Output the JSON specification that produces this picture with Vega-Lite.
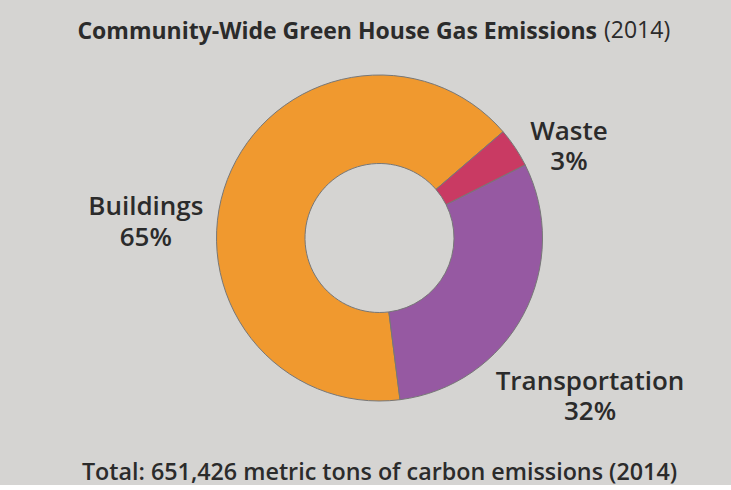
{
  "$schema": "https://vega.github.io/schema/vega-lite/v6.json",
  "background": "#d5d4d2",
  "padding": {"left": 41, "right": 13, "top": 20, "bottom": 0},
  "title": {"text": "Community-Wide Green House Gas Emissions", "font": "Open Sans", "fontSize": 23, "fontWeight": "bold", "color": "#2b2b2b", "anchor": "end", "frame": "group", "dx": -121, "offset": -24},
  "datasets": {
    "emissions": [
      {"category": "Buildings", "value": 65.7, "label": "Buildings\n65%"},
      {"category": "Transportation", "value": 30.4, "label": "Transportation\n32%"},
      {"category": "Waste", "value": 3.9, "label": "Waste\n3%"}
    ]
  },
  "vconcat": [
    {
      "title": {"text": "(2014)", "font": "Open Sans", "fontSize": 23, "fontWeight": "normal", "color": "#2b2b2b", "anchor": "start", "frame": "group", "dx": 563, "offset": 9},
      "vconcat": [
        {
          "width": 677,
          "height": 372,
          "title": {"text": "Total: 651,426 metric tons of carbon emissions (2014)", "orient": "bottom", "font": "Open Sans", "fontSize": 23.3, "fontWeight": 600, "color": "#2b2b2b", "anchor": "middle", "frame": "group", "offset": 37},
          "data": {"name": "emissions"},
          "encoding": {
            "theta": {"field": "value", "type": "quantitative", "stack": true, "scale": {"range": [0.8604, 7.1436]}},
            "order": {"field": "category", "sort": "descending"}
          },
          "layer": [
            {
              "mark": {"type": "arc", "outerRadius": 163, "innerRadius": 74.5, "stroke": "#777777", "strokeWidth": 1},
              "encoding": {
                "color": {"field": "category", "type": "nominal", "scale": {"domain": ["Buildings", "Transportation", "Waste"], "range": ["#f0992f", "#9659a2", "#c93a63"]}, "legend": null}
              }
            },
            {
              "mark": {"type": "text", "radius": 200, "dx": 23, "dy": 5, "font": "Open Sans", "fontSize": 26, "fontWeight": 600, "fill": "#2b2b2b", "align": "center", "baseline": "middle", "lineBreak": "\n", "lineHeight": 30},
              "encoding": {"text": {"condition": {"test": "datum.category === 'Waste'", "field": "label"}, "value": ""}}
            },
            {
              "mark": {"type": "text", "radius": 200, "dx": 34, "dy": 50, "font": "Open Sans", "fontSize": 26, "fontWeight": 600, "fill": "#2b2b2b", "align": "center", "baseline": "middle", "lineBreak": "\n", "lineHeight": 30},
              "encoding": {"text": {"condition": {"test": "datum.category === 'Transportation'", "field": "label"}, "value": ""}}
            },
            {
              "mark": {"type": "text", "radius": 200, "dx": -47, "dy": 41, "font": "Open Sans", "fontSize": 26, "fontWeight": 600, "fill": "#2b2b2b", "align": "center", "baseline": "middle", "lineBreak": "\n", "lineHeight": 31},
              "encoding": {"text": {"condition": {"test": "datum.category === 'Buildings'", "field": "label"}, "value": ""}}
            }
          ]
        }
      ]
    }
  ],
  "config": {"view": {"stroke": null}, "concat": {"spacing": 0}}
}
